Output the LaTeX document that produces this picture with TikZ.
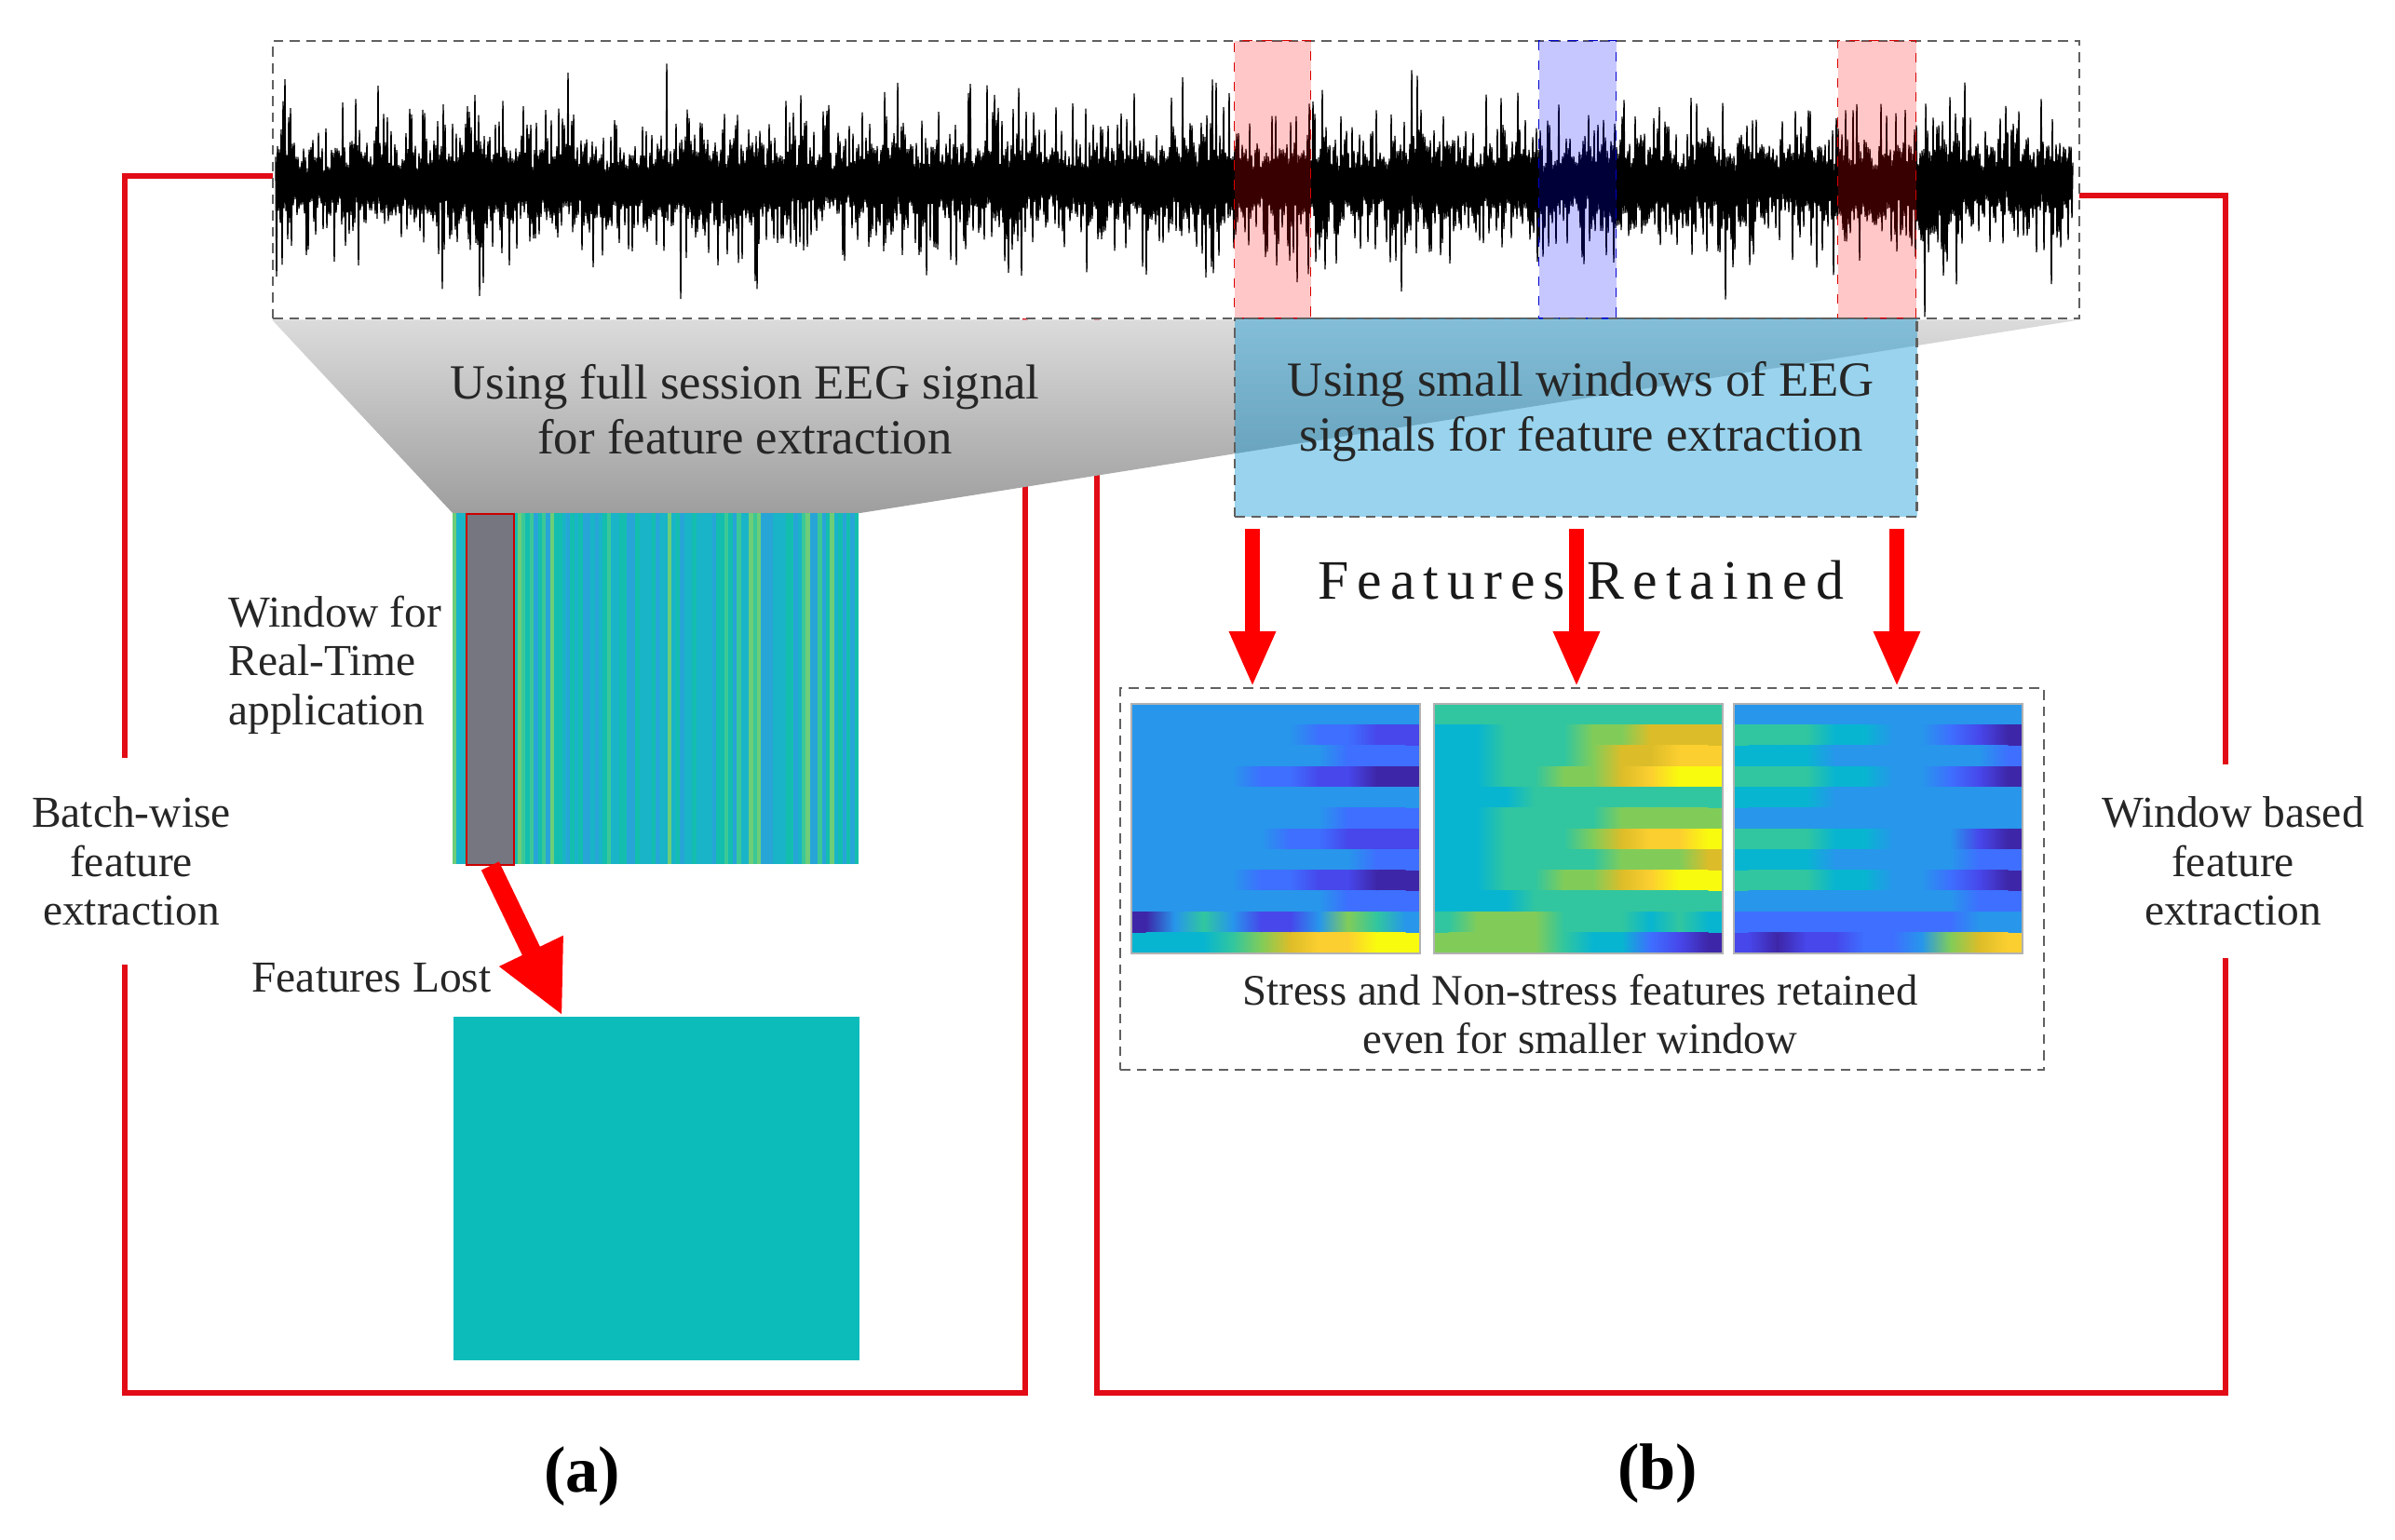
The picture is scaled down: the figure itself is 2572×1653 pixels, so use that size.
\documentclass[tikz,border=0pt]{standalone}
\usepackage{fontspec}
\setmainfont{Liberation Serif}
\usetikzlibrary{arrows.meta, calc}

% parula-like colours for the feature maps
\definecolor{par0}{RGB}{62,38,168}
\definecolor{par1}{RGB}{71,71,235}
\definecolor{par2}{RGB}{62,111,255}
\definecolor{par3}{RGB}{39,150,235}
\definecolor{par4}{RGB}{8,181,208}
\definecolor{par5}{RGB}{49,198,159}
\definecolor{par6}{RGB}{129,204,89}
\definecolor{par7}{RGB}{220,189,41}
\definecolor{par8}{RGB}{252,207,48}
\definecolor{par9}{RGB}{249,251,14}
\definecolor{stA}{RGB}{25,180,200}
\definecolor{stB}{RGB}{20,190,175}
\definecolor{stC}{RGB}{60,200,150}
\definecolor{stD}{RGB}{40,165,215}
\definecolor{stE}{RGB}{110,205,120}
\definecolor{framered}{RGB}{225,12,22}
\definecolor{winblue}{RGB}{0,146,211}
\definecolor{lostteal}{RGB}{11,188,187}
\definecolor{rtgray}{RGB}{118,118,128}

\newcommand\featmap[3]{%
	\foreach \rowv [count=\rw from 0] in {#3} {
		\foreach \v [count=\cl from 0, remember=\v as \lastv (initially 3)] in \rowv {
			\fill[par\v] (#1+\cl*31, #2+\rw*22.33) rectangle ++(31.3,22.6);
			\ifnum\cl>0
				\shade[left color=par\lastv, right color=par\v] (#1+\cl*31-15.5, #2+\rw*22.33) rectangle ++(31,22.6);
			\fi
		}
	}
	\draw[gray!60, line width=0.4pt] (#1,#2) rectangle ++(310,268);
}

\begin{document}
\begin{tikzpicture}[x=0.01cm, y=-0.01cm,
	frame/.style={draw=framered, line width=1.5pt},
	box/.style={inner sep=0pt, anchor=north west},
	dashbox/.style={box, draw=gray!75!black, densely dashed, line width=0.6pt},
	lbl/.style={font=\fontsize{13.5}{14.9}\selectfont, text=black!85, align=center},
	bigtext/.style={font=\fontsize{15}{16.8}\selectfont, text=black!85, align=center},
	redarrow/.style={draw=red, line width=4.5pt, -{Triangle[width=13pt,length=17pt]}},
	bigarrow/.style={draw=red, line width=6pt, -{Triangle[width=20pt,length=22pt]}}]
	\useasboundingbox (0,0) rectangle (2572,1653);

	% red frames
	\draw[frame] (134,189) rectangle (1101,1496);
	\draw[frame] (1178,210) rectangle (2390,1496);

	% signal
	\node[dashbox, fill=white, minimum width=19.39cm, minimum height=2.98cm] (sigbox) at (292,43) {};
	\pgfmathsetseed{7}
	\draw[line width=0.4pt, line join=bevel] plot[domain=296:2226, samples=1931]
		(\x, {197+(2*mod(round(\x),2)-1)*(0.4+0.6*rnd)*(50+92*rnd^3)*(0.85+0.2*sin(\x*0.9)*sin(\x*2.3))});
	\node[box, draw=red!85!black, dashed, fill=red, fill opacity=0.22, minimum width=0.82cm, minimum height=2.98cm] (win1) at (1325,43) {};
	\node[box, draw=blue!80!black, dashed, fill=blue, fill opacity=0.22, minimum width=0.83cm, minimum height=2.98cm] (win2) at (1652,43) {};
	\node[box, draw=red!85!black, dashed, fill=red, fill opacity=0.22, minimum width=0.84cm, minimum height=2.98cm] (win3) at (1973,43) {};

	% full session map
	\node[box, minimum width=4.36cm, minimum height=3.77cm] (fullmap) at (486,551) {};
	\shade[top color=black!14, bottom color=black!38] (sigbox.south west) -- (sigbox.south east)
		-- (fullmap.north east) -- (fullmap.north west) -- cycle;
	\node[bigtext] (fulltxt) at (800,440) {Using full session EEG signal\\for feature extraction};

	\pgfmathdeclarerandomlist{stripecols}{{stA}{stB}{stC}{stA}{stD}{stB}{stE}{stA}{stB}{stD}}
	\foreach \i in {0,...,99} {
		\pgfmathrandomitem{\sc}{stripecols}
		\fill[\sc] (486+\i*4.36,551) rectangle ++(4.6,377);
	}
	\node[box, draw=red!80!black, line width=0.5pt, fill=rtgray, minimum width=0.51cm, minimum height=3.77cm] (rtwin) at (500,551) {};
	\node[lbl, anchor=west, align=left] (rtlbl) at (233,714) {Window for\\Real-Time\\application};

	\node[box, fill=lostteal, minimum width=4.36cm, minimum height=3.69cm] (lostmap) at (486,1091) {};
	\draw[bigarrow] (rtwin.south) -- ($(lostmap.north west)+(118,0)$);
	\node[lbl] (lostlbl) at (399,1050) {Features Lost};

	% small windows
	\node[dashbox, fill=winblue, fill opacity=0.4, minimum width=7.32cm, minimum height=2.13cm] (winbox) at (1325,341) {};
	\node[bigtext] (wintxt) at (1698,442) {Using small windows of EEG\\signals for feature extraction};
	\node[font=\fontsize{17}{20}\selectfont\addfontfeatures{LetterSpace=15}, text=black!90] (retlbl) at (1698,623) {Features Retained};

	\node[dashbox, minimum width=9.91cm, minimum height=4.10cm] (featbox) at (1202,738) {};
	\foreach \dx [count=\i] in {20,368,712} {
		\coordinate (a\i) at ($(winbox.south west)+(\dx,12)$);
		\draw[redarrow] (a\i) -- (a\i |- featbox.north);
	}
	\featmap{1215}{756}{{3,3,3,3,3,3,3,3,3,3},{3,3,3,3,3,3,2,2,1,1},{3,3,3,3,3,3,3,2,2,2},
		{3,3,3,3,2,2,1,1,0,0},{3,3,3,3,3,3,3,3,3,3},{3,3,3,3,3,3,3,2,2,2},{3,3,3,3,3,2,2,1,1,1},
		{3,3,3,3,3,3,3,3,2,2},{3,3,3,3,2,2,1,1,0,0},{3,3,3,3,3,3,3,2,2,2},{0,3,5,3,1,1,3,6,5,3},
		{4,4,4,5,6,7,8,8,9,9}}
	\featmap{1540}{756}{{5,5,5,5,5,5,5,5,5,5},{4,4,5,5,5,6,6,7,7,7},{4,4,5,5,5,6,7,7,8,8},
		{4,4,5,5,6,6,7,8,9,9},{4,4,4,5,5,5,5,5,5,5},{4,4,5,5,5,5,6,6,6,6},{4,4,5,5,5,6,7,8,8,9},
		{4,4,5,5,5,5,6,6,6,7},{4,4,5,5,6,6,7,8,9,9},{4,4,4,5,5,5,5,5,5,5},{5,6,6,6,5,5,5,4,5,4},
		{6,6,6,6,5,4,4,2,1,0}}
	\featmap{1862}{756}{{3,3,3,3,3,3,3,3,3,3},{5,5,5,4,4,3,3,2,1,0},{4,4,4,3,3,3,3,3,3,2},
		{5,5,5,4,4,3,3,2,1,0},{4,4,4,3,3,3,3,3,3,3},{3,3,3,3,3,3,3,3,3,3},{5,5,5,4,4,3,3,3,1,0},
		{4,4,4,3,3,3,3,3,2,2},{5,5,5,4,4,3,3,2,1,0},{3,3,3,3,3,3,3,3,2,2},{2,2,2,2,2,2,2,2,3,3},
		{1,0,1,1,2,2,3,6,7,8}}
	\node[font=\fontsize{13.3}{14.8}\selectfont, text=black!85, align=center] (captxt) at (1697,1089)
		{Stress and Non-stress features retained\\even for smaller window};

	% side labels
	\node[lbl, fill=white, inner ysep=12pt] (batchlbl) at (141,925) {Batch-wise\\feature\\extraction};
	\node[lbl, fill=white, inner ysep=10pt] (wbaselbl) at (2398,925) {Window based\\feature\\extraction};
	\node[font=\fontsize{20}{22}\selectfont\bfseries] (capa) at (625,1586) {(a)};
	\node[font=\fontsize{20}{22}\selectfont\bfseries] (capb) at (1780,1583) {(b)};
\end{tikzpicture}
\end{document}
